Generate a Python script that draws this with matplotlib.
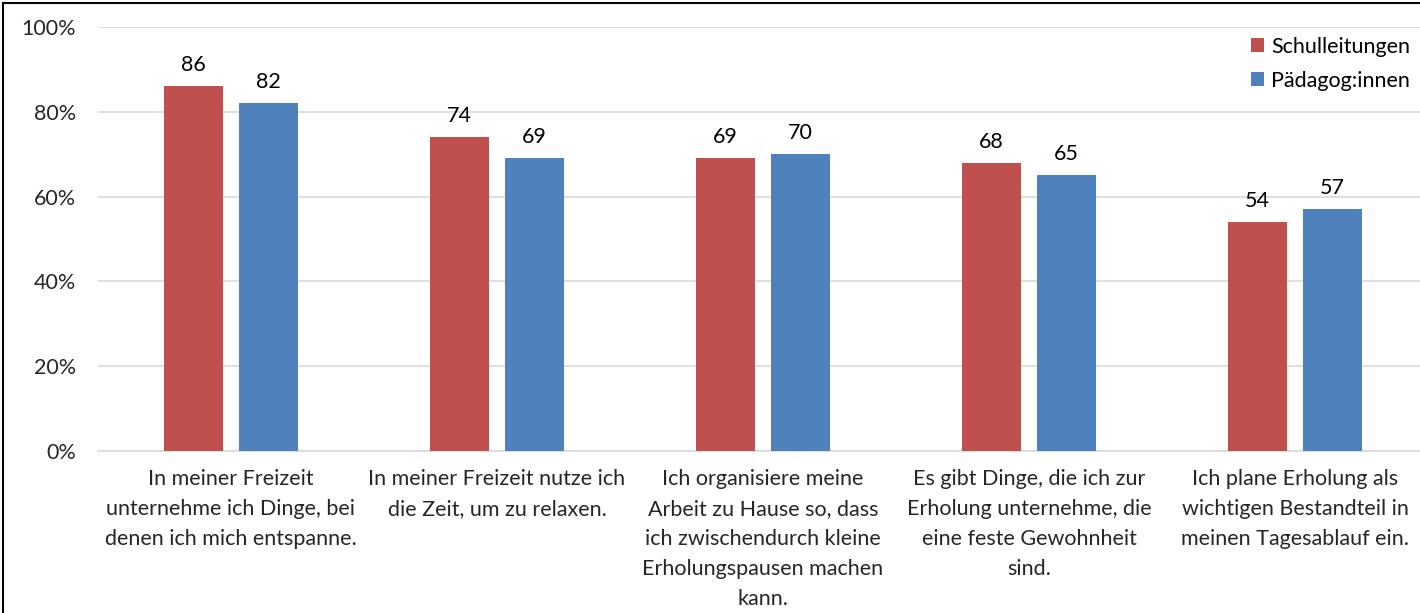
import numpy as np
import matplotlib.pyplot as plt
from matplotlib.lines import Line2D

plt.rcParams['font.family'] = ['Lato', 'DejaVu Sans']

categories = [
    'In meiner Freizeit\nunternehme ich Dinge, bei\ndenen ich mich entspanne.',
    'In meiner Freizeit nutze ich\ndie Zeit, um zu relaxen.',
    'Ich organisiere meine\nArbeit zu Hause so, dass\nich zwischendurch kleine\nErholungspausen machen\nkann.',
    'Es gibt Dinge, die ich zur\nErholung unternehme, die\neine feste Gewohnheit\nsind.',
    'Ich plane Erholung als\nwichtigen Bestandteil in\nmeinen Tagesablauf ein.',
]
schulleitungen = [86, 74, 69, 68, 54]
paedagoginnen = [82, 69, 70, 65, 57]
series_names = ['Schulleitungen', 'Pädagog:innen']
colors = ['#C0504D', '#4F81BD']

fs = 15.5

fig = plt.figure(figsize=(14.2, 6.13), dpi=100)
ax = fig.add_axes([98 / 1420, 1 - 451 / 613, (1428 - 98) / 1420, (451 - 27) / 613])

x = np.arange(len(categories))
w = 0.222
off = 0.141
b1 = ax.bar(x - off, schulleitungen, w, color=colors[0], label=series_names[0], zorder=3)
b2 = ax.bar(x + off, paedagoginnen, w, color=colors[1], label=series_names[1], zorder=3)

for bars in (b1, b2):
    for r in bars:
        ax.annotate(f'{r.get_height():.0f}', (r.get_x() + r.get_width() / 2, r.get_height()),
                    xytext=(0, 8), textcoords='offset points', ha='center', va='bottom',
                    fontsize=fs, color='#000000')

ax.set_xlim(-0.5, 4.5)
ax.set_ylim(0, 100)
ax.set_yticks(np.arange(0, 101, 20))
ax.set_yticklabels([f'{v}%' for v in range(0, 101, 20)], fontsize=fs, color='#262626')
ax.set_xticks(x)
ax.set_xticklabels(categories, fontsize=fs, color='#262626', linespacing=1.62, va='top')
ax.tick_params(axis='both', length=0)
ax.tick_params(axis='y', pad=16)
ax.tick_params(axis='x', pad=13)
ax.grid(axis='y', color='#d9d9d9', linewidth=1.2, zorder=0)
for s in ['top', 'right', 'left']:
    ax.spines[s].set_visible(False)
ax.spines['bottom'].set_color('#d9d9d9')
ax.spines['bottom'].set_linewidth(1.2)

ax.legend(loc='upper right', bbox_to_anchor=(1419 / 1420, 1 - 28 / 613), bbox_transform=fig.transFigure,
          frameon=False, fontsize=fs, handlelength=0.6, handleheight=0.6, handletextpad=0.35,
          labelspacing=0.65, borderaxespad=0)

# black frame round the picture
fig.add_artist(Line2D([3 / 1420, 3 / 1420], [0, 1 - 3 / 613], color='black', linewidth=1.5, transform=fig.transFigure))
fig.add_artist(Line2D([3 / 1420, 1], [1 - 3 / 613, 1 - 3 / 613], color='black', linewidth=1.5, transform=fig.transFigure))

fig.savefig('out.png', dpi=100)
